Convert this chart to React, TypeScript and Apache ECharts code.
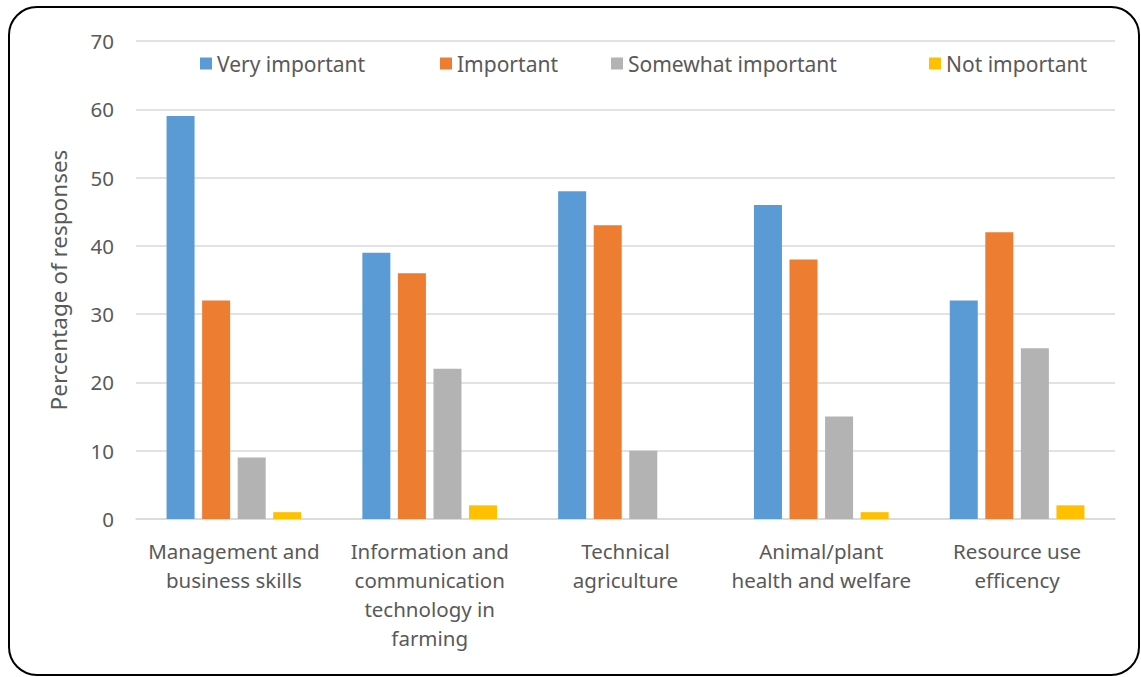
import React, { useEffect, useRef } from "react";
import * as echarts from "echarts";

const categories = [
  "Management and\nbusiness skills",
  "Information and\ncommunication\ntechnology in\nfarming",
  "Technical\nagriculture",
  "Animal/plant\nhealth and welfare",
  "Resource use\nefficency",
];

const seriesNames = ["Very important", "Important", "Somewhat important", "Not important"];
const veryImportant = [59, 39, 48, 46, 32];
const important = [32, 36, 43, 38, 42];
const somewhatImportant = [9, 22, 10, 15, 25];
const notImportant = [1, 2, 0, 1, 2];
const colors = ["#5B9BD5", "#ED7D31", "#B3B3B3", "#FFC000"];
const legendLefts = [195, 435, 606, 924];

const FONT = "'Noto Sans', 'Open Sans', sans-serif";
const TEXT = "#595959";

export default function App() {
  const ref = useRef<HTMLDivElement>(null);

  useEffect(() => {
    if (!ref.current) return;
    const chart = echarts.init(ref.current, undefined, { renderer: "svg" });
    const values = [veryImportant, important, somewhatImportant, notImportant];

    chart.setOption({
      animation: false,
      backgroundColor: "#ffffff",
      textStyle: { fontFamily: FONT },
      legend: seriesNames.map((name, i) => ({
        data: [name],
        left: legendLefts[i],
        top: 48,
        icon: "rect",
        itemWidth: 12,
        itemHeight: 12,
        itemGap: 6,
        textStyle: { color: TEXT, fontSize: 21, fontFamily: FONT },
        selectedMode: false,
      })),
      grid: { left: 136, right: 26, top: 41, bottom: 158 },
      xAxis: {
        type: "category",
        data: categories,
        axisLine: { lineStyle: { color: "#D9D9D9", width: 1.5 } },
        axisTick: { show: false },
        axisLabel: {
          color: TEXT,
          fontSize: 20.5,
          fontFamily: FONT,
          lineHeight: 29,
          margin: 17,
          interval: 0,
        },
      },
      yAxis: {
        type: "value",
        min: 0,
        max: 70,
        interval: 10,
        name: "Percentage of responses",
        nameLocation: "middle",
        nameGap: 66,
        nameRotate: 90,
        nameTextStyle: { color: TEXT, fontSize: 22.5, fontFamily: FONT },
        axisLine: { show: false },
        axisTick: { show: false },
        axisLabel: { color: TEXT, fontSize: 20.5, fontFamily: FONT, margin: 22 },
        splitLine: { lineStyle: { color: "#D9D9D9", width: 1.5 } },
      },
      series: seriesNames.map((name, i) => ({
        name,
        type: "bar",
        data: values[i],
        barWidth: 28,
        barGap: "27%",
        itemStyle: { color: colors[i] },
      })),
      graphic: [
        {
          type: "rect",
          shape: { x: 9, y: 7, width: 1130, height: 668, r: 28 },
          style: { fill: "none", stroke: "#000000", lineWidth: 2 },
          silent: true,
          z: 100,
        },
      ],
    });

    return () => chart.dispose();
  }, []);

  return (
    <div
      ref={ref}
      style={{ position: "absolute", left: 0, top: 0, width: 1141, height: 677 }}
    />
  );
}
